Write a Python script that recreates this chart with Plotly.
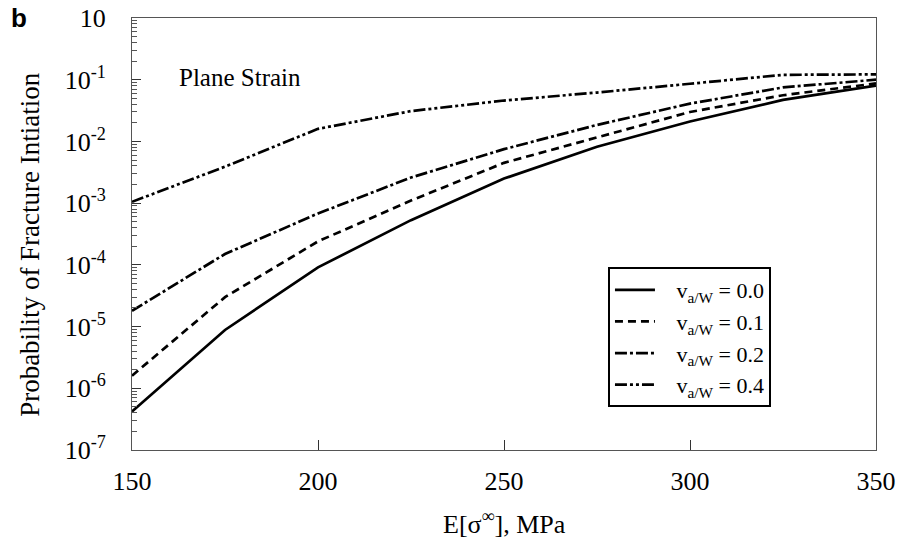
import plotly.graph_objects as go

stress = [150, 175, 200, 225, 250, 275, 300, 325, 350]
p_00 = [4.2e-7, 8.8e-6, 9.1e-5, 5.3e-4, 2.5e-3, 8.2e-3, 2.1e-2, 4.7e-2, 8.0e-2]
p_01 = [1.6e-6, 3.0e-5, 2.4e-4, 1.1e-3, 4.5e-3, 1.15e-2, 3.0e-2, 5.6e-2, 8.7e-2]
p_02 = [1.8e-5, 1.5e-4, 6.8e-4, 2.6e-3, 7.5e-3, 1.85e-2, 4.1e-2, 7.5e-2, 1.0e-1]
p_04 = [1.05e-3, 3.9e-3, 1.6e-2, 3.1e-2, 4.6e-2, 6.2e-2, 8.6e-2, 0.12, 0.122]

names = ["&nbsp;&nbsp;&nbsp;v<sub>a/W</sub> = 0.0", "&nbsp;&nbsp;&nbsp;v<sub>a/W</sub> = 0.1",
         "&nbsp;&nbsp;&nbsp;v<sub>a/W</sub> = 0.2", "&nbsp;&nbsp;&nbsp;v<sub>a/W</sub> = 0.4"]
y_tickvals = [1, 1e-1, 1e-2, 1e-3, 1e-4, 1e-5, 1e-6, 1e-7]
y_ticktext = ["10", "10<sup>-1</sup>", "10<sup>-2</sup>", "10<sup>-3</sup>",
              "10<sup>-4</sup>", "10<sup>-5</sup>", "10<sup>-6</sup>", "10<sup>-7</sup>"]
x_tickvals = [150, 200, 250, 300, 350]

series = [p_00, p_01, p_02, p_04]
dashes = ["solid", "8px,5px", "12px,3px,3px,3px", "12px,3px,3px,3px,3px,3px"]

FONT = "Liberation Serif"
fig = go.Figure()
for ys, nm, d in zip(series, names, dashes):
    fig.add_trace(go.Scatter(x=stress, y=ys, mode="lines", name=nm,
                             line=dict(color="black", width=2.7, dash=d)))

fig.update_layout(
    width=899, height=548,
    margin=dict(l=132, r=23, t=18, b=98, autoexpand=False),
    paper_bgcolor="white", plot_bgcolor="white",
    font=dict(family=FONT, color="black", size=22),
    showlegend=True,
    legend=dict(x=0.64, y=0.423, xanchor="left", yanchor="top",
                bgcolor="white", bordercolor="black", borderwidth=1.8,
                font=dict(family=FONT, size=22), tracegroupgap=1,
                itemwidth=40),
)
fig.update_xaxes(
    range=[150, 350], tickvals=x_tickvals, ticks="inside", ticklen=10,
    tickcolor="#333", showline=True, linecolor="#555", linewidth=1, mirror=True,
    showgrid=False, zeroline=False, tickfont=dict(size=26, family=FONT),
    automargin=False, ticklabelstandoff=8,
)
fig.update_yaxes(
    type="log", range=[-7, 0], tickvals=y_tickvals, ticktext=y_ticktext,
    ticks="inside", ticklen=9, tickcolor="#333",
    minor=dict(ticks="inside", ticklen=5, tickcolor="#555", dtick="D1", showgrid=False),
    showline=True, linecolor="#555", linewidth=1, mirror=True,
    showgrid=False, zeroline=False, tickfont=dict(size=26, family=FONT),
    automargin=False, ticklabelstandoff=20,
)
fig.add_annotation(text="E[σ<sup>∞</sup>], MPa", x=0.5, y=-0.167, xref="paper", yref="paper",
                   xanchor="center", yanchor="middle", showarrow=False,
                   font=dict(size=26, family=FONT))
fig.add_annotation(text="Probability of Fracture Intiation", x=-0.137, y=0.475,
                   xref="paper", yref="paper", textangle=-90,
                   xanchor="center", yanchor="middle", showarrow=False,
                   font=dict(size=27, family=FONT))
fig.add_annotation(text="Plane Strain", x=162.0, y=-0.97, xref="x", yref="y",
                   xanchor="left", yanchor="middle", showarrow=False,
                   font=dict(size=25, family=FONT))
fig.add_annotation(text="<b>b</b>", x=-0.165, y=1.0, xref="paper", yref="paper",
                   xanchor="left", yanchor="middle", showarrow=False,
                   font=dict(size=26, family="Liberation Sans"))
fig.write_html("out.html", post_script="document.body.style.margin='0';",
               config={"displayModeBar": False})
